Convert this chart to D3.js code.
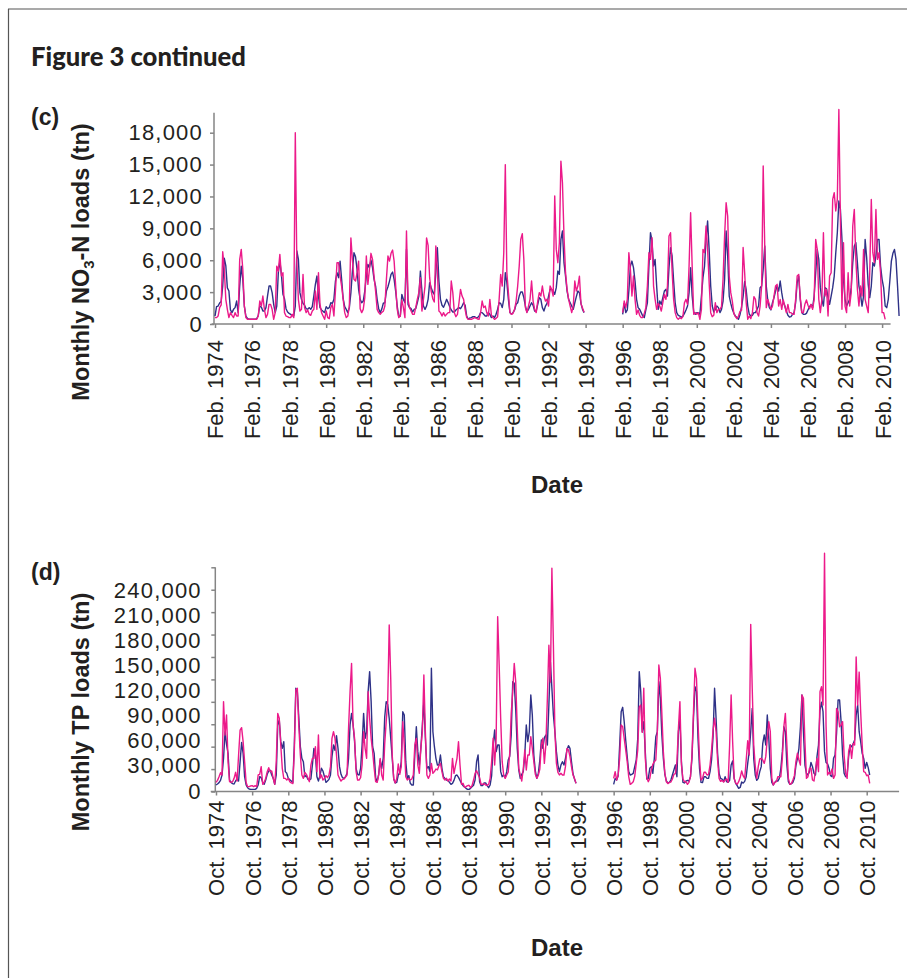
<!DOCTYPE html>
<html>
<head>
<meta charset="utf-8">
<script src="https://cdn.jsdelivr.net/npm/d3@7"></script>
<style>
  html, body { margin: 0; padding: 0; background: #fff; }
  svg { display: block; }
  .tick text { fill: #231f20; }
</style>
</head>
<body>
<svg id="fig" width="914" height="978"></svg>
<script>
// ---------------------------------------------------------------
// Panel (c): monthly NO3-N loads (tn), months counted from Feb. 1974
// Two record blocks: Feb. 1974 – Jan. 1994 and Feb. 1996 onward
// ---------------------------------------------------------------
const no3StartA = 0;    // Feb. 1974
const no3StartB = 264;  // Feb. 1996

const no3BlueA = [
  750, 1630, 1690, 1980, 2130, 3570, 6200, 5500, 3400, 3100, 1320, 1070,
  1380, 1540, 2160, 1070, 3570, 5450, 4200, 1690, 750, 530, 440, 440,
  440, 440, 440, 500, 800, 1690, 1600, 1220, 1220, 1540, 2630, 3570,
  3570, 2950, 1850, 1070, 1690, 4830, 5920, 4670, 2790, 2380, 1440, 1130,
  1000, 910, 820, 750, 1690, 6870, 6080, 2950, 2320, 1940, 1760, 1440,
  1380, 1540, 1380, 1630, 2630, 3730, 4510, 2630, 1540, 1320, 1190, 1070,
  1630, 1440, 1540, 2000, 1940, 2320, 4040, 4830, 4360, 5920, 4200, 2380,
  1630, 1380, 1070, 1540, 2950, 4980, 6710, 6330, 5140, 3260, 2320, 2000,
  2160, 3100, 4510, 5610, 5300, 6020, 5300, 4200, 3570, 2320, 1440, 1070,
  1400, 1950, 2000, 3100, 3510, 4040, 4670, 4890, 4200, 3100, 1690, 690,
  750, 2790, 2320, 2000, 7020, 1850, 1540, 1440, 1130, 1380, 1440, 2000,
  2630, 4980, 3100, 1690, 1380, 1690, 2320, 3890, 3420, 3010, 2790, 4830,
  7180, 4040, 2320, 1760, 1570, 1940, 2320, 2000, 1630, 1320, 1130, 1130,
  1320, 1440, 1540, 1440, 1690, 2000, 1760, 750, 440, 560, 600, 690,
  690, 600, 600, 750, 1070, 1070, 910, 750, 750, 1070, 910, 600,
  750, 600, 910, 1380, 2000, 1940, 1540, 2320, 4830, 3890, 2320, 1070,
  910, 1070, 1320, 1850, 2000, 2630, 3010, 3010, 2480, 1690, 1130, 1380,
  1690, 2000, 1760, 1220, 1220, 1850, 2480, 2320, 1540, 1220, 1690, 1940,
  2630, 3260, 3260, 3100, 2790, 3420, 4980, 4670, 7960, 8750, 5770, 4510,
  3100, 2320, 2000, 1690, 1380, 2000, 2570, 3100, 2950, 1940, 1380, 1070
];
const no3BlueB = [
  910, 1940, 1070, 1320, 3100, 5450, 5920, 5300, 4040, 2320, 1540, 1380,
  1070, 750, 600, 1320, 2000, 5450, 8590, 7810, 5450, 6080, 3570, 1380,
  2160, 1850, 2480, 3100, 3260, 2630, 5300, 7180, 6400, 4040, 2000, 1070,
  820, 750, 630, 750, 1000, 1320, 1690, 2950, 5300, 2630, 1130, 910,
  1070, 1070, 910, 2630, 4360, 5450, 7960, 9690, 7020, 3570, 1690, 1130,
  1380, 1690, 1540, 1070, 1380, 2160, 4200, 8750, 6400, 2630, 1940, 1380,
  1000, 750, 600, 440, 900, 1600, 2600, 4000, 3200, 1690, 910, 750,
  820, 1070, 1070, 1380, 1690, 3420, 3570, 5140, 7340, 3570, 2160, 1540,
  1320, 2000, 2480, 3100, 3570, 3100, 4040, 2950, 2070, 1690, 1220, 820,
  660, 690, 910, 1070, 2000, 3890, 4510, 2320, 1070, 910, 910, 1000,
  1320, 1630, 1820, 1540, 2630, 4830, 7020, 6080, 3420, 2320, 1690, 3420,
  3320, 2480, 1850, 2630, 3420, 4510, 6710, 8590, 11570, 10780, 7960, 4200,
  2320, 1690, 2000, 2320, 3420, 5770, 7340, 7650, 5770, 3570, 2790, 1690,
  2630, 7960, 6240, 3730, 2480, 3570, 5770, 5450, 6400, 7960, 7960, 5450,
  4200, 3420, 1690, 1540, 2320, 4040, 5920, 6650, 7020, 6080, 3570, 750
];
const no3PinkA = [
  600, 600, 750, 1540, 1790, 6800, 5200, 2320, 1380, 600, 1070, 820,
  600, 1070, 750, 750, 6080, 7020, 5140, 1690, 600, 440, 440, 440,
  440, 440, 440, 440, 750, 2160, 1690, 2630, 1380, 600, 910, 1850,
  1850, 1380, 440, 1070, 5450, 4980, 6550, 4510, 4830, 1070, 750, 690,
  600, 600, 910, 600, 18000, 5770, 2320, 1220, 1380, 4670, 1540, 1070,
  1320, 910, 820, 1220, 1380, 3100, 1380, 4830, 1850, 1070, 750, 440,
  1220, 600, 500, 1540, 1850, 750, 3100, 5770, 5770, 4510, 3570, 2320,
  1070, 600, 750, 1690, 8100, 6000, 4200, 4040, 4830, 5920, 1440, 1070,
  1380, 2480, 6400, 3730, 5140, 6650, 6080, 4510, 3100, 1380, 1070, 910,
  1100, 1200, 1690, 4200, 6400, 5920, 6650, 6960, 5920, 3570, 1380, 600,
  750, 2260, 1540, 600, 8750, 2320, 1540, 1220, 910, 910, 1540, 2320,
  2950, 4360, 1220, 2320, 3570, 8100, 7400, 4360, 3100, 2380, 2070, 7340,
  5140, 1220, 1070, 750, 1070, 750, 910, 1070, 1070, 4040, 2950, 1070,
  690, 910, 2000, 3260, 2630, 2320, 1320, 600, 440, 440, 440, 500,
  600, 560, 470, 440, 1070, 2160, 1540, 1690, 1070, 750, 2320, 820,
  600, 440, 530, 690, 2320, 4670, 3570, 6710, 15000, 4830, 2950, 1070,
  910, 1000, 1380, 2160, 3570, 5450, 7960, 8500, 6080, 1540, 1070, 1690,
  2320, 4040, 2160, 1380, 1070, 2160, 2950, 2630, 3570, 2630, 2160, 2320,
  1690, 3570, 3260, 2630, 12040, 7020, 5770, 7650, 15330, 13290, 8280, 4830,
  3260, 2320, 1690, 1070, 1690, 4040, 3100, 3570, 4500, 1900, 1500, 1100
];
const no3PinkB = [
  1070, 2160, 1540, 2320, 6710, 5140, 2630, 4510, 2320, 910, 1320, 820,
  600, 600, 1000, 1540, 3570, 6710, 6080, 8120, 3570, 2320, 1380, 1940,
  1690, 1220, 2000, 2790, 2320, 3570, 8280, 8590, 4980, 2320, 1070, 600,
  440, 600, 500, 690, 2000, 2320, 1850, 5450, 10470, 5450, 910, 1070,
  910, 1070, 440, 1380, 7020, 6710, 9220, 7020, 3890, 1070, 690, 820,
  2000, 1070, 1380, 1380, 1630, 4200, 8280, 11410, 10160, 4510, 2950, 2160,
  1000, 690, 500, 750, 1200, 1300, 7200, 4800, 2000, 440, 750, 500,
  1070, 2570, 2320, 1070, 750, 1690, 3570, 14860, 7340, 1540, 2320, 1850,
  1380, 1690, 2630, 3570, 3730, 1690, 2320, 1380, 2260, 1690, 1070, 1850,
  1070, 1070, 910, 910, 2320, 4510, 4670, 2480, 1070, 1070, 1850, 2260,
  1760, 1440, 1850, 1380, 2320, 7960, 7020, 2320, 1070, 2320, 8590, 2630,
  3260, 750, 4510, 4830, 11720, 12350, 10630, 11720, 20190, 9840, 1380, 7650,
  1690, 1070, 4830, 1690, 2950, 9220, 10780, 6080, 3260, 1690, 3570, 2630,
  7020, 2320, 1690, 1070, 4830, 11720, 6710, 5770, 10780, 6080, 6710, 4830,
  1070, 1070, 440
];
const no3YTicks = [0, 3000, 6000, 9000, 12000, 15000, 18000];
const no3XLabels = ["Feb. 1974", "Feb. 1976", "Feb. 1978", "Feb. 1980", "Feb. 1982",
  "Feb. 1984", "Feb. 1986", "Feb. 1988", "Feb. 1990", "Feb. 1992", "Feb. 1994",
  "Feb. 1996", "Feb. 1998", "Feb. 2000", "Feb. 2002", "Feb. 2004", "Feb. 2006",
  "Feb. 2008", "Feb. 2010"];

// ---------------------------------------------------------------
// Panel (d): monthly TP loads (tn), months counted from Oct. 1974
// Two record blocks: Oct. 1974 – Sep. 1994 and Oct. 1996 onward
// ---------------------------------------------------------------
const tpStartA = 0;    // Oct. 1974
const tpStartB = 264;  // Oct. 1996

const tpBlueA = [
  7200, 8400, 10000, 12700, 19100, 39000, 70800, 55700, 45000, 13100, 10300, 8800,
  8400, 11900, 14300, 11900, 35000, 58100, 45000, 17100, 7200, 4000, 2400, 2000,
  2000, 2000, 2000, 3200, 7200, 17100, 15900, 10300, 8000, 13100, 19900, 23900,
  24700, 19100, 15100, 8000, 19100, 78800, 84800, 58900, 50900, 58900, 23100, 21100,
  15100, 13500, 11900, 10000, 54900, 122600, 118600, 86800, 52900, 39000, 35000, 17100,
  18300, 13900, 13100, 14300, 31000, 50900, 43000, 17100, 11900, 18300, 27100, 23900,
  17100, 10300, 11900, 13900, 19100, 41000, 54900, 48600, 66100, 50900, 29100, 19900,
  15900, 15100, 17100, 21100, 39000, 78800, 92700, 79600, 58900, 27100, 19900, 19100,
  27100, 54900, 92700, 62900, 70800, 118600, 142500, 106700, 52900, 45000, 15900, 11100,
  19900, 37000, 27100, 39000, 88000, 106700, 103500, 86800, 62900, 39000, 14300, 9600,
  10300, 19100, 22300, 35000, 94700, 90700, 35000, 15100, 18300, 9150, 7200, 7200,
  43000, 76800, 47000, 31000, 50900, 78800, 106700, 62900, 27100, 29100, 23100, 146500,
  70800, 52900, 39000, 31000, 31000, 43000, 27100, 17100, 15100, 13100, 12700, 10300,
  8000, 9150, 12700, 18300, 19100, 16300, 12700, 9150, 6400, 4800, 3200, 2000,
  2000, 3200, 5200, 6800, 13100, 35000, 43000, 11100, 6400, 6400, 9600, 9600,
  6400, 4000, 7200, 18300, 54900, 72800, 47000, 54900, 54900, 23100, 17100, 19100,
  15900, 23100, 37000, 41400, 66900, 130500, 128600, 96700, 50900, 25100, 15100, 19900,
  23100, 43000, 78800, 58900, 70800, 114600, 90700, 43000, 23900, 15100, 21100, 37000,
  60900, 50900, 63700, 66900, 54900, 102700, 154400, 122600, 90700, 70800, 47000, 31000,
  23100, 31000, 35000, 31000, 39000, 49000, 54100, 50900, 35000, 21100, 14300, 9150
];
const tpBlueB = [
  8000, 15100, 13100, 18300, 54900, 94700, 99900, 82800, 60900, 41000, 23100, 19100,
  19900, 21100, 29100, 37000, 62900, 142500, 118600, 70800, 82800, 47000, 14300, 15100,
  27100, 29100, 21100, 39000, 64900, 70800, 130500, 110600, 66900, 39000, 19900, 11900,
  9600, 10300, 13100, 19100, 25100, 31000, 17100, 70800, 86800, 35000, 10300, 9600,
  11900, 12700, 11900, 17100, 39000, 86800, 124600, 118600, 62900, 27100, 10300, 10000,
  17100, 17100, 15100, 15100, 23100, 37000, 64900, 122600, 86800, 45000, 21100, 15100,
  14300, 11100, 17100, 11100, 10300, 12700, 31000, 35800, 15100, 9150, 6400, 3200,
  4200, 10700, 9400, 11500, 17000, 33000, 47000, 70800, 98700, 39000, 19100, 12700,
  15100, 23100, 29100, 56900, 66900, 54900, 90700, 62900, 27100, 10300, 7200, 10300,
  12300, 11900, 15100, 27100, 47000, 76800, 70800, 31000, 11100, 8000, 8800, 10300,
  15100, 30200, 39000, 50900, 76800, 114600, 70800, 31000, 21100, 19100, 23100, 34200,
  29100, 21100, 19100, 41000, 54900, 96700, 105900, 94700, 47000, 34200, 32600, 27100,
  18300, 17100, 39000, 43000, 68900, 108700, 108700, 82800, 43000, 21100, 17100, 19100,
  41000, 54900, 52900, 56100, 60900, 90700, 102700, 70800, 58900, 45000, 39000, 27100,
  34200, 27900, 19100
];
const tpPinkA = [
  10300, 12700, 17100, 21900, 19100, 106700, 66900, 90700, 35000, 11100, 10300, 11100,
  15100, 22300, 11900, 43000, 72800, 75600, 58900, 35000, 10300, 5200, 5200, 6000,
  6400, 5200, 6400, 5200, 19100, 19900, 29100, 8000, 10300, 15100, 23100, 27900,
  23100, 23900, 15100, 8000, 35000, 92700, 86800, 54900, 27100, 15100, 15100, 13100,
  15100, 11100, 9600, 8800, 47000, 120600, 122600, 76800, 43000, 19100, 15100, 22300,
  19900, 15900, 11100, 31000, 39000, 39000, 52900, 23100, 66900, 15100, 19100, 13100,
  15100, 18300, 15900, 19100, 29100, 62900, 70800, 62900, 43000, 19100, 15100, 11900,
  13900, 14300, 16700, 19100, 74800, 118600, 152400, 78800, 62900, 23100, 13100, 13100,
  15900, 31000, 70800, 50900, 39000, 118600, 86800, 62900, 47000, 27100, 11100, 10300,
  19100, 39000, 19100, 13100, 56000, 82800, 106700, 198200, 134500, 43000, 14300, 9600,
  15100, 32200, 19900, 29100, 82800, 54900, 17100, 13100, 15100, 13100, 14300, 19100,
  54900, 62900, 31000, 21100, 50900, 70800, 138500, 70800, 19100, 15100, 19100, 33000,
  21100, 23100, 26300, 25100, 30200, 33000, 23100, 15100, 13100, 15100, 11900, 14300,
  11900, 39000, 21100, 30200, 39000, 58900, 31000, 8000, 9150, 4400, 5200, 6400,
  6800, 4000, 6400, 13100, 21100, 24300, 19900, 15900, 8000, 8000, 8800, 7200,
  6800, 8000, 15100, 35000, 62900, 31000, 62900, 208200, 150400, 86800, 35000, 19100,
  15100, 19100, 22700, 45000, 92700, 118600, 152400, 130500, 74800, 27100, 19100, 11900,
  26300, 49000, 25100, 43000, 43000, 64900, 50900, 35000, 19900, 15100, 19100, 26300,
  54900, 62900, 33000, 54900, 110600, 174000, 130000, 266000, 174300, 70800, 33000, 22300,
  19100, 21100, 19100, 19100, 29100, 50900, 49000, 41000, 29100, 19100, 15100, 9150
];
const tpPinkB = [
  15100, 23100, 13100, 19100, 39000, 78800, 76800, 62900, 49000, 35000, 17100, 8000,
  9150, 11100, 17500, 33000, 49000, 100000, 102700, 70000, 122600, 39000, 15900, 11100,
  15100, 25100, 31800, 35000, 37000, 70800, 150400, 134500, 92700, 47000, 21100, 11100,
  8800, 10300, 10700, 14300, 19900, 20700, 35000, 74800, 106700, 31000, 14300, 11100,
  11100, 8000, 10300, 17100, 43000, 94700, 146500, 134500, 82800, 39000, 13100, 15100,
  22300, 22300, 19100, 19900, 31000, 49000, 72800, 86800, 70800, 37000, 15100, 11500,
  12700, 10700, 13100, 14300, 10300, 54900, 114600, 58900, 15100, 9600, 8000, 11100,
  16000, 24000, 18000, 15000, 37000, 60000, 43000, 199000, 122600, 54900, 30200, 15100,
  29100, 38200, 39000, 37000, 33000, 41000, 62900, 82800, 70800, 15100, 7200, 10300,
  11100, 17100, 17100, 17100, 39000, 76800, 92700, 54900, 15100, 8000, 8800, 13100,
  18300, 35000, 45000, 37000, 31000, 114600, 110600, 58900, 15100, 17100, 27100, 27100,
  13100, 11900, 25100, 39000, 23100, 118600, 124600, 102700, 283800, 78800, 19100, 22300,
  19900, 26300, 15100, 19100, 98700, 94700, 76800, 78800, 82800, 43000, 21100, 15100,
  47000, 54900, 39000, 56900, 54900, 160000, 102700, 142000, 94700, 54900, 23100, 22300,
  18300, 19100, 9150
];
const tpYTicks = [0, 30000, 60000, 90000, 120000, 150000, 180000, 210000, 240000];
const tpXLabels = ["Oct. 1974", "Oct. 1976", "Oct. 1978", "Oct. 1980", "Oct. 1982",
  "Oct. 1984", "Oct. 1986", "Oct. 1988", "Oct. 1990", "Oct. 1992", "Oct. 1994",
  "Oct. 1996", "Oct. 1998", "Oct. 2000", "Oct. 2002", "Oct. 2004", "Oct. 2006",
  "Oct. 2008", "Oct. 2010"];

// ---------------------------------------------------------------
const BLUE = "#2e3187";
const PINK = "#ec1a8a";
const AXIS = "#858585";
const INK = "#231f20";
const SANS = "'Liberation Sans', Arial, Helvetica, sans-serif";

const svg = d3.select("#fig");

// join two record blocks into one series with a break between them
function series(blockA, startA, blockB, startB) {
  const pts = blockA.map((v, i) => ({ m: startA + i, v }));
  pts.push({ m: null, v: null });
  blockB.forEach((v, i) => pts.push({ m: startB + i, v }));
  return pts;
}

// page frame
svg.append("line").attr("x1", 8).attr("x2", 907).attr("y1", 9).attr("y2", 9)
  .attr("stroke", "#555").attr("stroke-width", 1.2);
svg.append("line").attr("x1", 8.5).attr("x2", 8.5).attr("y1", 9).attr("y2", 978)
  .attr("stroke", "#555").attr("stroke-width", 1.2);

// headings
svg.append("text").attr("x", 31).attr("y", 66)
  .attr("font-family", "Lato, 'Liberation Sans Narrow', 'Liberation Sans', sans-serif")
  .attr("font-weight", 900).attr("font-size", 27).attr("fill", INK)
  .attr("textLength", 215).attr("lengthAdjust", "spacingAndGlyphs")
  .text("Figure 3 continued");

function panelLetter(label, y) {
  svg.append("text").attr("x", 31).attr("y", y)
    .attr("font-family", SANS).attr("font-weight", "bold").attr("font-size", 23)
    .attr("fill", INK).text(label);
}
panelLetter("(c)", 125);
panelLetter("(d)", 580);

function styleAxis(g) {
  g.selectAll("path.domain").remove();
  g.selectAll(".tick line").attr("stroke", AXIS).attr("stroke-width", 1.5);
  g.selectAll(".tick text").attr("font-family", SANS).attr("font-size", 22).attr("fill", INK);
}

function rotateXLabels(g, offset) {
  g.selectAll(".tick text")
    .attr("transform", "rotate(-90)")
    .attr("x", -offset).attr("y", 0).attr("dy", "0.36em")
    .style("text-anchor", "end");
}

function drawLines(x, y, blue, pink) {
  const line = d3.line()
    .defined(d => d.v != null)
    .x(d => x(d.m)).y(d => y(d.v));
  svg.append("path").datum(blue).attr("d", line)
    .attr("fill", "none").attr("stroke", BLUE).attr("stroke-width", 1.4)
    .attr("stroke-linejoin", "round");
  svg.append("path").datum(pink).attr("d", line)
    .attr("fill", "none").attr("stroke", PINK).attr("stroke-width", 1.4)
    .attr("stroke-linejoin", "round");
}

function yTitle(cx, cy, size, build) {
  const t = svg.append("text")
    .attr("transform", `translate(${cx},${cy}) rotate(-90)`)
    .attr("text-anchor", "middle")
    .attr("font-family", SANS).attr("font-weight", "bold").attr("font-size", size)
    .attr("fill", INK);
  build(t);
}

function dateTitle(y) {
  svg.append("text").attr("x", 557).attr("y", y).attr("text-anchor", "middle")
    .attr("font-family", SANS).attr("font-weight", "bold").attr("font-size", 24)
    .attr("fill", INK).text("Date");
}

// =================== Panel (c) ===================
{
  const x = d3.scaleLinear().domain([0, 432]).range([215, 882.1]);
  const y = d3.scaleLinear().domain([0, 18000]).range([324, 132.7]);
  const axisX0 = 214;

  // axis lines
  svg.append("line").attr("x1", axisX0).attr("x2", axisX0)
    .attr("y1", y(19880)).attr("y2", y(0))
    .attr("stroke", AXIS).attr("stroke-width", 1.5);
  svg.append("line").attr("x1", x(-2.2)).attr("x2", x(437.5))
    .attr("y1", y(0)).attr("y2", y(0))
    .attr("stroke", AXIS).attr("stroke-width", 1.5);

  const gy = svg.append("g").attr("transform", `translate(${axisX0},0)`)
    .call(d3.axisLeft(y).tickValues(no3YTicks).tickSize(4).tickPadding(7)
      .tickFormat(d3.format(",")));
  styleAxis(gy);
  gy.selectAll(".tick text").attr("letter-spacing", "1.2px");

  const gx = svg.append("g").attr("transform", `translate(0,${y(0)})`)
    .call(d3.axisBottom(x).tickValues(d3.range(0, 433, 24)).tickSize(4)
      .tickFormat((d, i) => no3XLabels[i]));
  styleAxis(gx);
  rotateXLabels(gx, 16);

  drawLines(x, y,
    series(no3BlueA, no3StartA, no3BlueB, no3StartB),
    series(no3PinkA, no3StartA, no3PinkB, no3StartB));

  yTitle(89, 262, 23.5, t => {
    t.append("tspan").text("Monthly NO");
    t.append("tspan").attr("font-size", 15).attr("dy", 5).text("3");
    t.append("tspan").attr("dy", -5).text("-N loads (tn)");
  });
  dateTitle(493);
}

// =================== Panel (d) ===================
{
  const x = d3.scaleLinear().domain([0, 432]).range([216, 866.7]);
  // value scale shared by the tick labels and the data
  const y = d3.scaleLinear().domain([0, 240000]).range([791, 590]);
  // tick-mark grid along the axis (every 30,000 to 300,000)
  const yMarks = d3.scaleLinear().domain([0, 300000]).range([791.5, 567.3]);
  const axisX0 = 215.3;

  svg.append("line").attr("x1", axisX0).attr("x2", axisX0)
    .attr("y1", yMarks(300000)).attr("y2", yMarks(0))
    .attr("stroke", AXIS).attr("stroke-width", 1.5);
  svg.append("line").attr("x1", x(-3.5)).attr("x2", x(453.5))
    .attr("y1", yMarks(0)).attr("y2", yMarks(0))
    .attr("stroke", AXIS).attr("stroke-width", 1.5);

  const gm = svg.append("g").attr("transform", `translate(${axisX0},0)`)
    .call(d3.axisLeft(yMarks).tickValues(d3.range(0, 300001, 30000))
      .tickSize(4).tickFormat(""));
  styleAxis(gm);

  const gy = svg.append("g").attr("transform", `translate(${axisX0},0)`)
    .call(d3.axisLeft(y).tickValues(tpYTicks).tickSize(0).tickPadding(13.5)
      .tickFormat(d3.format(",")));
  styleAxis(gy);
  gy.selectAll(".tick line").remove();
  gy.selectAll(".tick text").attr("letter-spacing", "1.2px");

  const gx = svg.append("g").attr("transform", `translate(0,${yMarks(0)})`)
    .call(d3.axisBottom(x).tickValues(d3.range(0, 433, 24)).tickSize(4)
      .tickFormat((d, i) => tpXLabels[i]));
  styleAxis(gx);
  rotateXLabels(gx, 9);

  drawLines(x, y,
    series(tpBlueA, tpStartA, tpBlueB, tpStartB),
    series(tpPinkA, tpStartA, tpPinkB, tpStartB));

  yTitle(89, 712, 23.5, t => t.text("Monthly TP loads (tn)"));
  dateTitle(956);
}
</script>
</body>
</html>
